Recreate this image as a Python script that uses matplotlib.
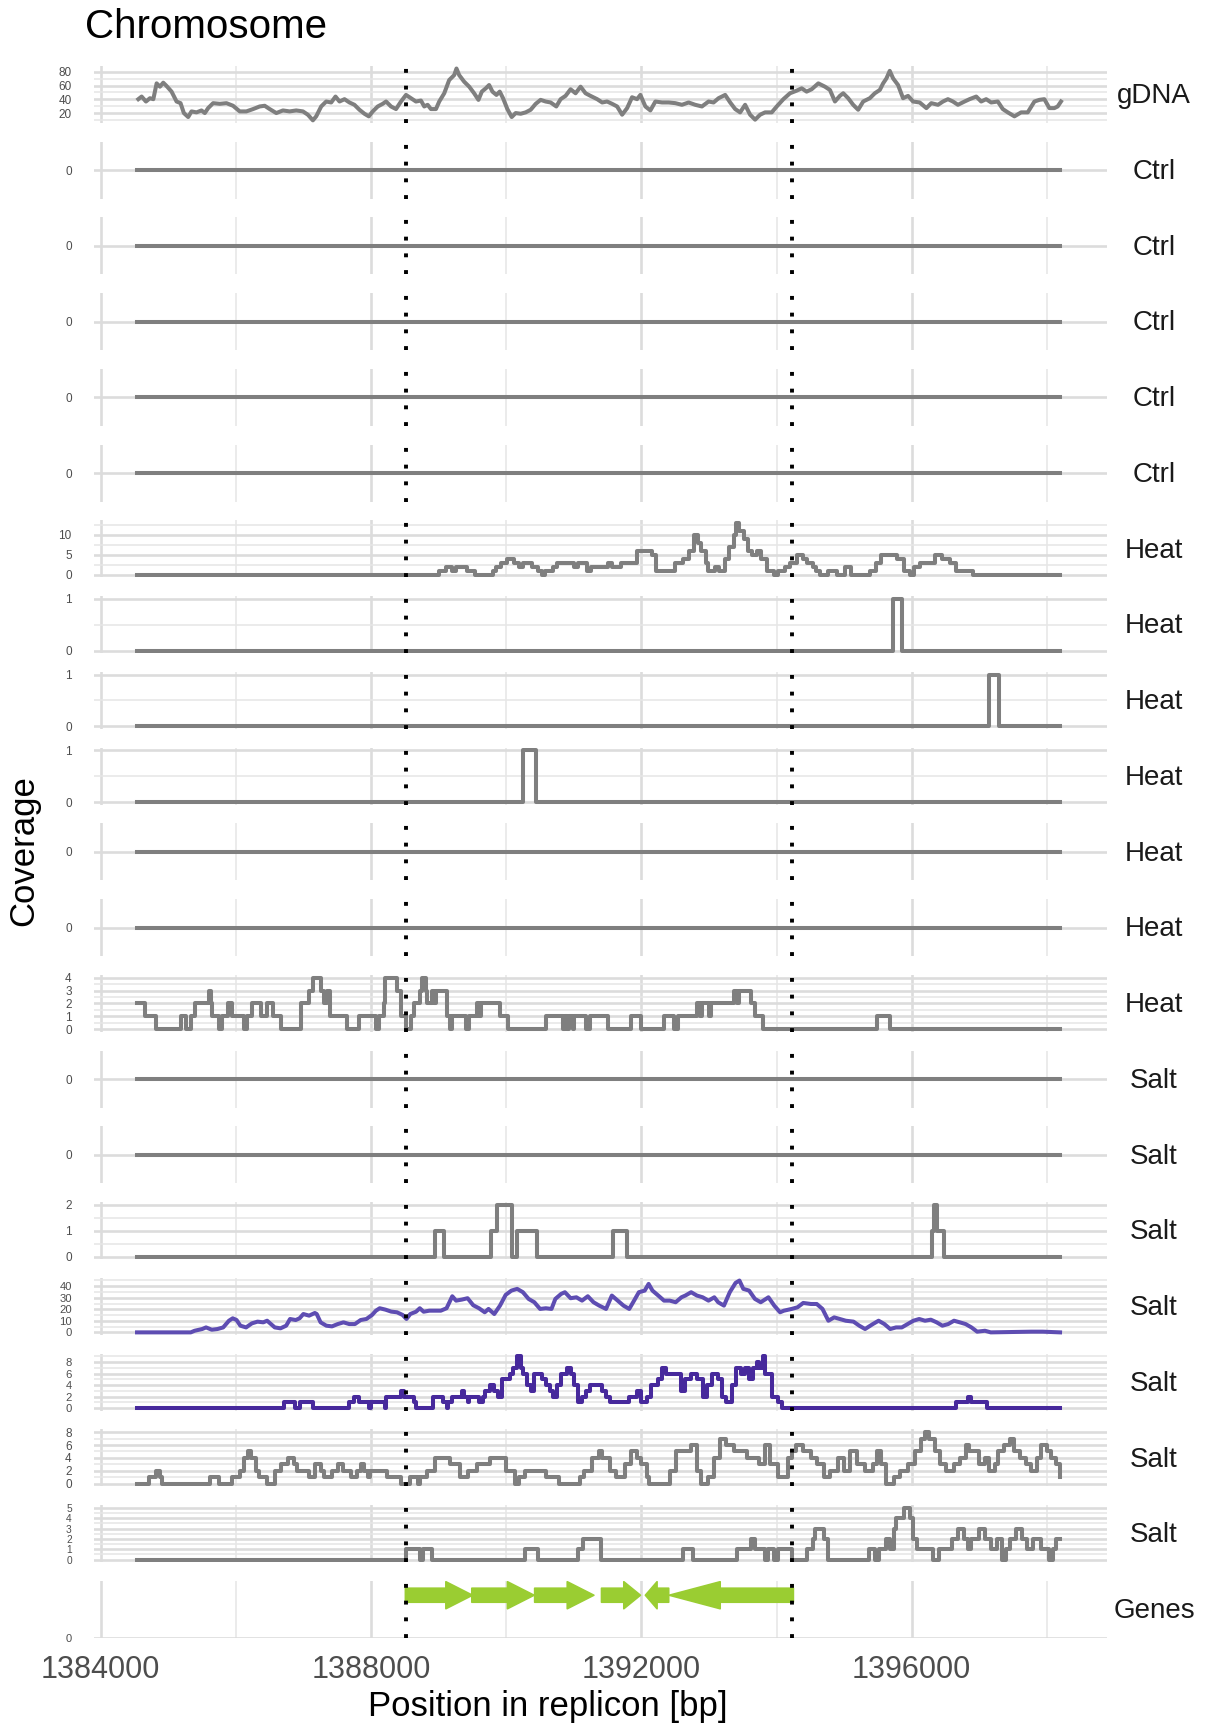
import numpy as np
import matplotlib.pyplot as plt
import matplotlib.transforms as mtransforms
from matplotlib.patches import Polygon

plt.rcParams['font.family'] = ['Liberation Sans', 'DejaVu Sans']

# positions in replicon [bp]
x_first, x_last = 1384537, 1398195
region_bounds = [1388520, 1394230]
x_major = [1384000, 1388000, 1392000, 1396000]
x_minor = [1386000, 1390000, 1394000, 1398000]

gdna_pos = [1384556, 1384605, 1384669, 1384728, 1384778, 1384827, 1384876, 1384925, 1384974, 1385048,
            1385122, 1385181, 1385230, 1385294, 1385343, 1385417, 1385491, 1385540, 1385589, 1385663,
            1385762, 1385860, 1385958, 1386057, 1386155, 1386254, 1386352, 1386426, 1386500, 1386598,
            1386696, 1386795, 1386893, 1386992, 1387065, 1387139, 1387188, 1387262, 1387336, 1387410,
            1387474, 1387533, 1387607, 1387680, 1387754, 1387828, 1387902, 1387966, 1388025, 1388099,
            1388172, 1388222, 1388295, 1388369, 1388443, 1388517, 1388591, 1388664, 1388738, 1388787,
            1388837, 1388886, 1388960, 1389009, 1389083, 1389156, 1389230, 1389264, 1389304, 1389378,
            1389452, 1389525, 1389589, 1389639, 1389698, 1389747, 1389796, 1389855, 1389904, 1389953,
            1390017, 1390081, 1390140, 1390214, 1390288, 1390362, 1390436, 1390509, 1390583, 1390657,
            1390741, 1390805, 1390878, 1390952, 1391026, 1391100, 1391174, 1391247,
            1391346, 1391420, 1391493, 1391567, 1391641, 1391715, 1391789, 1391862, 1391936, 1391985,
            1392059, 1392133, 1392207, 1392305, 1392404, 1392502, 1392600, 1392699, 1392797, 1392896,
            1392994, 1393068, 1393142, 1393240, 1393314, 1393388, 1393461, 1393535, 1393609, 1393683,
            1393757, 1393830, 1393929, 1394003, 1394101, 1394199, 1394298, 1394372, 1394445, 1394519,
            1394618, 1394716, 1394790, 1394864, 1394937, 1394987, 1395060, 1395134, 1395208, 1395282,
            1395380, 1395454, 1395528, 1395577, 1395626, 1395675, 1395725, 1395798, 1395872, 1395946,
            1396020, 1396118, 1396217, 1396290, 1396389, 1396463, 1396536, 1396610, 1396684, 1396782,
            1396856, 1396955, 1397028, 1397102, 1397176, 1397274, 1397348, 1397422, 1397520, 1397619,
            1397717, 1397816, 1397889, 1397963, 1398037, 1398111, 1398160, 1398209]
gdna_cov = [40.2, 44.0, 36.8, 41.6, 40.2, 63.2, 58.4, 64.2, 59.4, 51.2,
            36.8, 34.4, 20.0, 14.2, 22.4, 21.0, 23.8, 20.0, 27.2, 34.4,
            33.4, 34.4, 30.6, 22.4, 22.4, 25.8, 29.6, 30.6, 25.8, 20.0,
            23.8, 22.4, 23.8, 22.4, 17.6, 9.4, 15.2, 29.6, 36.8, 35.4,
            44.0, 36.8, 40.2, 35.4, 32.0, 24.8, 19.0, 15.2, 22.4, 29.6,
            33.4, 36.8, 29.6, 25.8, 36.8, 46.4, 41.6, 36.8, 38.2, 29.6,
            32.0, 25.8, 25.8, 36.8, 48.8, 68.0, 75.2, 84.8, 75.2, 65.6,
            58.4, 48.8, 39.2, 51.2, 56.0, 60.8, 51.2, 46.4, 51.2, 41.6,
            25.8, 14.2, 20.0, 19.0, 21.0, 24.8, 33.4, 39.2, 36.8, 35.4,
            29.6, 40.2, 45.0, 54.6, 48.8, 58.4, 48.8, 45.0,
            40.2, 35.4, 36.8, 33.4, 29.6, 17.6, 27.2, 43.0, 40.2, 46.4,
            29.6, 23.8, 36.8, 35.4, 35.4, 34.4, 32.0, 35.4, 32.0, 29.6,
            36.8, 35.4, 41.6, 46.4, 35.4, 25.8, 21.0, 32.0, 17.6, 10.4,
            17.6, 21.0, 21.0, 29.6, 40.2, 48.8, 52.6, 56.0, 51.2, 54.6,
            63.2, 58.4, 53.6, 36.8, 45.0, 48.8, 41.6, 32.0, 24.8, 36.8,
            41.6, 48.8, 53.6, 63.2, 70.4, 81.4, 70.4, 60.8, 41.6, 45.0,
            36.8, 35.4, 27.2, 34.4, 32.0, 36.8, 40.2, 36.8, 32.0, 36.8,
            40.2, 44.0, 36.8, 40.2, 35.4, 36.8, 25.8, 21.0, 15.2, 21.0,
            21.0, 36.8, 39.2, 40.2, 27.2, 27.2, 29.6, 36.8]

flat_pos = [x_first, x_last]
flat_cov = [0, 0]

heat1_pos = [1384537, 1389000, 1389111, 1389196, 1389252, 1389420, 1389535, 1389800, 1389845, 1389930,
             1390015, 1390116, 1390184, 1390241, 1390380, 1390467, 1390523, 1390580, 1390693, 1390749,
             1391000, 1391060, 1391201, 1391257, 1391512, 1391568, 1391698, 1391935, 1392161, 1392218,
             1392500, 1392613, 1392698, 1392783, 1392839, 1392884, 1392952, 1392980, 1393093, 1393150,
             1393235, 1393291, 1393376, 1393404, 1393449, 1393517, 1393574, 1393630, 1393715, 1393771,
             1393856, 1393969, 1394025, 1394130, 1394195, 1394308, 1394393, 1394449, 1394534, 1394590,
             1394647, 1394760, 1394901, 1395014, 1395099, 1395381, 1395466, 1395551, 1395777, 1395890,
             1395975, 1396031, 1396116, 1396342, 1396455, 1396568, 1396653, 1396907, 1398195]
heat1_cov = [0, 1, 2, 1, 2, 1, 0, 1, 2, 3,
             4, 3, 2, 3, 2, 1, 0, 1, 2, 3,
             2, 3, 1, 2, 3, 2, 3, 6, 5, 1,
             3, 4, 6, 10, 8, 6, 3, 1, 2, 1,
             4, 7, 10, 13, 11, 9, 6, 5, 6, 4,
             1, 0, 1, 2, 3, 5, 4, 3, 2, 1,
             0, 1, 0, 2, 0, 1, 3, 5, 4, 1,
             0, 2, 3, 5, 4, 3, 1, 0, 0]

heat2_pos = [x_first, 1395730, 1395860, x_last]
heat2_cov = [0, 1, 0, 0]
heat3_pos = [x_first, 1397140, 1397285, x_last]
heat3_cov = [0, 1, 0, 0]
heat4_pos = [x_first, 1390245, 1390440, x_last]
heat4_cov = [0, 1, 0, 0]

heat7_pos = [1384537, 1384654, 1384824, 1385191, 1385264, 1385332, 1385389, 1385600, 1385630, 1385643,
             1385756, 1385795, 1385886, 1385937, 1386123, 1386162, 1386236, 1386377, 1386462, 1386547,
             1386660, 1386970, 1387083, 1387140, 1387253, 1387300, 1387354, 1387394, 1387648, 1387818,
             1388072, 1388120, 1388190, 1388213, 1388383, 1388439, 1388524, 1388597, 1388637, 1388721,
             1388750, 1388806, 1388835, 1388900, 1388930, 1388960, 1389117, 1389170, 1389200, 1389400,
             1389445, 1389569, 1389600, 1389620, 1389908, 1390021, 1390586, 1390840, 1390870, 1390897,
             1390930, 1390981, 1391010, 1391179, 1391235, 1391506, 1391849, 1391992, 1392335, 1392478,
             1392536, 1392822, 1392870, 1392900, 1393000, 1393030, 1393365, 1393420, 1393450, 1393623,
             1393680, 1393794, 1395482, 1395682, 1398195]
heat7_cov = [2, 1, 0, 1, 0, 1, 2, 3, 2, 1,
             0, 1, 2, 1, 0, 1, 2, 1, 2, 1,
             0, 2, 3, 4, 3, 2, 3, 1, 0, 1,
             0, 1, 2, 4, 3, 1, 0, 1, 2, 3,
             4, 3, 2, 3, 2, 3, 1, 0, 1, 0,
             1, 2, 1, 2, 1, 0, 1, 0, 1, 0,
             1, 0, 1, 0, 1, 0, 1, 0, 1, 0,
             1, 2, 1, 2, 1, 2, 3, 2, 3, 2,
             1, 0, 1, 0, 0]

salt3_pos = [1384537, 1388943, 1389073, 1389772, 1389870, 1390081, 1390160, 1390455, 1391577, 1391789,
             1396293, 1396325, 1396374, 1396471, 1398195]
salt3_cov = [0, 1, 0, 1, 2, 0, 1, 0, 1, 0,
             1, 2, 1, 0, 0]

salt4_pos = [1384537, 1385332, 1385389, 1385501, 1385558, 1385643, 1385727, 1385812, 1385897, 1385953,
             1386010, 1386066, 1386151, 1386236, 1386320, 1386405, 1386462, 1386518, 1386575, 1386660,
             1386744, 1386801, 1386885, 1386942, 1386998, 1387083, 1387168, 1387196, 1387253, 1387338,
             1387422, 1387507, 1387592, 1387677, 1387761, 1387846, 1387931, 1388015, 1388072, 1388128,
             1388213, 1388298, 1388383, 1388467, 1388524, 1388580, 1388665, 1388721, 1388778, 1388862,
             1388947, 1389032, 1389117, 1389202, 1389258, 1389343, 1389428, 1389512, 1389597, 1389682,
             1389738, 1389823, 1389908, 1389992, 1390077, 1390162, 1390247, 1390331, 1390416, 1390501,
             1390586, 1390670, 1390727, 1390812, 1390868, 1390953, 1391038, 1391122, 1391207, 1391292,
             1391376, 1391477, 1391563, 1391649, 1391735, 1391820, 1391878, 1391963, 1392049, 1392107,
             1392164, 1392250, 1392335, 1392421, 1392507, 1392593, 1392650, 1392736, 1392822, 1392907,
             1392993, 1393079, 1393136, 1393222, 1393308, 1393394, 1393451, 1393508, 1393594, 1393680,
             1393766, 1393880, 1393966, 1394052, 1394109, 1394223, 1394309, 1394395, 1394509, 1394595,
             1394680, 1394767, 1394853, 1394938, 1395024, 1395139, 1395224, 1395310, 1395425, 1395510,
             1395596, 1395682, 1395768, 1395854, 1395940, 1396025, 1396111, 1396197, 1396283, 1396369,
             1396454, 1396540, 1396626, 1396712, 1396798, 1396884, 1396969, 1397084, 1397170, 1397770,
             1397942, 1398195]
salt4_cov = [0, 0, 1.4, 2.9, 4.3, 2.3, 2.9, 4.3, 10.1, 12.2,
             10.7, 5.8, 4.3, 7.8, 9.3, 8.7, 10.1, 7.2, 4.3, 3.5,
             5.8, 11.6, 10.7, 12.2, 15.9, 14.5, 16.8, 15.9, 8.7, 5.8,
             5.2, 7.2, 8.7, 7.2, 7.2, 10.7, 11.6, 15.1, 18.8, 20.9,
             19.7, 18.0, 17.4, 15.1, 11.6, 15.9, 17.9, 20.9, 17.9, 18.8,
             18.8, 18.8, 20.9, 31.3, 27.5, 28.4, 29.6, 23.5, 20.9, 17.4,
             20.3, 15.9, 23.2, 32.5, 36.2, 37.7, 34.8, 29.0, 26.1, 20.3,
             20.9, 20.3, 29.0, 33.3, 34.8, 29.6, 30.4, 27.5, 31.3, 26.1,
             23.2, 20.3, 31.9, 27.5, 23.2, 20.3, 26.1, 34.8, 36.2, 42.0,
             36.2, 31.9, 27.5, 27.5, 26.1, 30.4, 31.9, 34.8, 31.9, 30.4,
             27.5, 30.4, 26.1, 23.2, 34.8, 42.9, 44.9, 37.7, 36.2, 29.0,
             26.1, 30.4, 23.2, 17.4, 18.8, 20.3, 21.7, 25.5, 24.6, 24.6,
             20.3, 10.1, 13.0, 11.6, 10.1, 9.3, 5.8, 2.9, 7.2, 10.1,
             7.2, 2.9, 4.3, 4.3, 7.2, 10.1, 11.6, 10.1, 11.0, 8.7,
             5.8, 7.2, 10.1, 8.7, 7.2, 4.3, 0.6, 1.4, 0, 0.6,
             0.6, 0]

salt5_pos = [1384537, 1386716, 1386869, 1386942, 1387139, 1387677, 1387750, 1387816, 1387976, 1387998,
             1388202, 1388225, 1388439, 1388484, 1388637, 1388665, 1388919, 1389060, 1389117, 1389145,
             1389202, 1389343, 1389371, 1389428, 1389456, 1389597, 1389653, 1389693, 1389766, 1389823,
             1389879, 1389936, 1390049, 1390105, 1390162, 1390218, 1390247, 1390303, 1390360, 1390416,
             1390529, 1390586, 1390642, 1390699, 1390755, 1390812, 1390896, 1390953, 1391009, 1391066,
             1391122, 1391179, 1391235, 1391420, 1391477, 1391534, 1391820, 1391935, 1391992, 1392078,
             1392135, 1392250, 1392307, 1392364, 1392593, 1392650, 1392736, 1392822, 1392907, 1392965,
             1393050, 1393136, 1393194, 1393251, 1393337, 1393394, 1393480, 1393537, 1393594, 1393651,
             1393708, 1393737, 1393794, 1393823, 1393937, 1394023, 1394080, 1396655, 1396826, 1396884,
             1397112, 1398195]
salt5_cov = [0, 1, 0, 1, 0, 1, 2, 1, 0, 1,
             0, 2, 3, 2, 1, 0, 2, 1, 0, 1,
             2, 3, 2, 1, 2, 1, 2, 3, 4, 3,
             2, 5, 6, 7, 9, 7, 6, 4, 3, 6,
             5, 4, 3, 2, 4, 6, 7, 6, 4, 1,
             2, 3, 4, 3, 2, 1, 2, 3, 1, 2,
             4, 5, 7, 6, 3, 5, 6, 5, 2, 4,
             6, 5, 2, 1, 4, 7, 6, 7, 5, 7,
             8, 7, 9, 6, 2, 1, 0, 1, 2, 1,
             0, 0]

salt6_pos = [1384537, 1384711, 1384812, 1384880, 1384908, 1385614, 1385756, 1385942, 1386066, 1386123,
             1386179, 1386225, 1386292, 1386348, 1386462, 1386575, 1386660, 1386773, 1386857, 1386902,
             1387083, 1387168, 1387253, 1387309, 1387422, 1387507, 1387592, 1387705, 1387790, 1387846,
             1387902, 1387959, 1387987, 1388241, 1388439, 1388580, 1388693, 1388721, 1388834, 1388947,
             1389173, 1389315, 1389428, 1389569, 1389766, 1389992, 1390134, 1390190, 1390275, 1390586,
             1390783, 1391094, 1391150, 1391263, 1391376, 1391420, 1391534, 1391620, 1391763, 1391849,
             1391935, 1391992, 1392078, 1392107, 1392421, 1392507, 1392736, 1392822, 1392879, 1392993,
             1393079, 1393165, 1393251, 1393365, 1393565, 1393737, 1393823, 1393909, 1394023, 1394166,
             1394223, 1394281, 1394395, 1394509, 1394595, 1394709, 1394795, 1394910, 1394996, 1395081,
             1395196, 1395310, 1395425, 1395482, 1395539, 1395625, 1395739, 1395825, 1395940, 1396054,
             1396140, 1396197, 1396254, 1396340, 1396426, 1396512, 1396626, 1396712, 1396798, 1396855,
             1396998, 1397084, 1397141, 1397227, 1397284, 1397370, 1397456, 1397513, 1397599, 1397685,
             1397770, 1397856, 1397913, 1397999, 1398057, 1398142, 1398199]
salt6_cov = [0, 1, 2, 1, 0, 1, 0, 1, 2, 4,
             5, 4, 2, 1, 0, 2, 3, 4, 3, 2,
             1, 3, 2, 1, 2, 3, 2, 1, 2, 3,
             2, 1, 2, 1, 0, 1, 0, 1, 2, 4,
             3, 1, 2, 3, 4, 2, 0, 1, 2, 1,
             0, 1, 2, 4, 5, 4, 2, 1, 3, 5,
             4, 3, 1, 0, 2, 5, 6, 2, 0, 1,
             4, 7, 6, 5, 4, 3, 6, 3, 1, 4,
             5, 6, 5, 4, 3, 1, 2, 4, 2, 5,
             3, 2, 3, 5, 3, 0, 1, 2, 3, 5,
             7, 8, 7, 5, 3, 2, 3, 4, 6, 5,
             3, 4, 2, 3, 5, 6, 7, 5, 4, 3,
             2, 4, 6, 5, 4, 3, 1]

salt7_pos = [1384537, 1388524, 1388721, 1388766, 1388902, 1390275, 1390473, 1391066, 1391139, 1391400,
             1392621, 1392764, 1393422, 1393623, 1393680, 1393823, 1393880, 1393966, 1394023, 1394223,
             1394452, 1394538, 1394566, 1394709, 1394767, 1395367, 1395453, 1395510, 1395625, 1395682,
             1395739, 1395768, 1395882, 1395968, 1396025, 1396083, 1396311, 1396397, 1396597, 1396683,
             1396769, 1396826, 1396884, 1396998, 1397084, 1397170, 1397255, 1397341, 1397398, 1397456,
             1397542, 1397627, 1397713, 1397799, 1397913, 1398028, 1398085, 1398142, 1398199]
salt7_cov = [0, 1, 0, 1, 0, 1, 0, 1, 2, 0,
             1, 0, 1, 2, 1, 0, 1, 0, 1, 0,
             1, 2, 3, 2, 0, 1, 0, 1, 2, 1,
             3, 4, 5, 4, 2, 1, 0, 1, 2, 3,
             2, 1, 2, 3, 2, 1, 2, 0, 1, 2,
             3, 2, 1, 2, 1, 0, 1, 2, 2]

gene_start = [1388508, 1389491, 1390421, 1391410, 1392404, 1394249]
gene_end = [1389501, 1390412, 1391297, 1391986, 1392059, 1392413]
gene_head = [394, 394, 394, 246, 173, 753]

GREY = '#7F7F7F'
PURPLE_1 = '#5E4DB2'
PURPLE_2 = '#47299C'
GENE_GREEN = '#9ACD32'

# (strip label, positions, coverage, draw as, colour, y break step)
rows = [('gDNA', gdna_pos, gdna_cov, 'line', GREY, 20)]
rows += [('Ctrl', flat_pos, flat_cov, 'steps', GREY, None)] * 5
rows += [('Heat', heat1_pos, heat1_cov, 'steps', GREY, 5),
         ('Heat', heat2_pos, heat2_cov, 'steps', GREY, 1),
         ('Heat', heat3_pos, heat3_cov, 'steps', GREY, 1),
         ('Heat', heat4_pos, heat4_cov, 'steps', GREY, 1),
         ('Heat', flat_pos, flat_cov, 'steps', GREY, None),
         ('Heat', flat_pos, flat_cov, 'steps', GREY, None),
         ('Heat', heat7_pos, heat7_cov, 'steps', GREY, 1),
         ('Salt', flat_pos, flat_cov, 'steps', GREY, None),
         ('Salt', flat_pos, flat_cov, 'steps', GREY, None),
         ('Salt', salt3_pos, salt3_cov, 'steps', GREY, 1),
         ('Salt', salt4_pos, salt4_cov, 'line', PURPLE_1, 10),
         ('Salt', salt5_pos, salt5_cov, 'steps', PURPLE_2, 2),
         ('Salt', salt6_pos, salt6_cov, 'steps', GREY, 2),
         ('Salt', salt7_pos, salt7_cov, 'steps', GREY, 1),
         ('Genes', None, None, 'genes', GENE_GREEN, None)]

fig, axes = plt.subplots(len(rows), 1, figsize=(12.08, 17.26), dpi=100, sharex=True,
                         gridspec_kw={'hspace': 0.329})
fig.subplots_adjust(left=0.0778, right=0.9164, top=0.9618, bottom=0.051)

for ax, (label, pos, cov, kind, color, step) in zip(axes, rows):
    for s in ax.spines.values():
        s.set_visible(False)
    ax.set_xlim(1383900, 1398890)
    ax.set_xticks(x_major)
    ax.set_xticks(x_minor, minor=True)
    ax.set_xticklabels([str(v) for v in x_major])
    ysize = 8.5

    if kind == 'genes':
        ax.set_ylim(0, 1)
        ax.set_yticks([0])
        ax.set_yticklabels(['0'])
        ysize = 8
        for s0, e0, hl in zip(gene_start, gene_end, gene_head):
            d = 1 if e0 > s0 else -1
            neck = e0 - d * hl
            yc, body, head = 0.75, 0.123, 0.237
            pts = [(s0, yc - body), (neck, yc - body), (neck, yc - head), (e0, yc),
                   (neck, yc + head), (neck, yc + body), (s0, yc + body)]
            ax.add_patch(Polygon(pts, closed=True, fc=color, ec=color, lw=1.2,
                                 joinstyle='round', zorder=2))
    else:
        if kind == 'line':
            ax.plot(pos, cov, color=color, lw=2.9, zorder=2, solid_joinstyle='round')
        else:
            ax.step(pos, cov, where='post', color=color, lw=2.9, zorder=2)
        if step is None:
            ax.set_ylim(-0.05, 0.05)
            ax.set_yticks([0])
            ax.set_yticklabels(['0'])
        else:
            lo, hi = min(cov), max(cov)
            pad = 0.05 * (hi - lo)
            y0, y1 = lo - pad, hi + pad
            ax.set_ylim(y0, y1)
            half = step / 2
            vals = np.arange(np.ceil(y0 / half) * half, y1 + 1e-9, half)
            majors = [v for v in vals if abs(v / step - round(v / step)) < 1e-6]
            minors = [v for v in vals if abs(v / step - round(v / step)) >= 1e-6]
            ax.set_yticks(majors)
            ax.set_yticks(minors, minor=True)
            ax.set_yticklabels([str(int(round(v))) for v in majors])
            # keep stacked labels from running into each other in dense panels
            px_per_tick = 57 * step / (y1 - y0)
            ysize = min(8.5, px_per_tick / 1.42)

    ax.grid(which='major', color='#DCDCDC', lw=1.9)
    ax.grid(which='minor', color='#E6E6E6', lw=1.1)
    ax.set_axisbelow(True)
    ax.tick_params(which='both', length=0)
    ax.tick_params(axis='y', labelsize=ysize, labelcolor='#4D4D4D', pad=16)
    ax.tick_params(axis='x', labelsize=22, labelcolor='#4D4D4D', pad=12)

    for xb in region_bounds:
        ax.axvline(xb, color='black', lw=2.8, ls=(0, (1, 3.3)), zorder=3)

    trans = mtransforms.blended_transform_factory(fig.transFigure, ax.transAxes)
    ax.text(1154 / 1208, 0.47, label, transform=trans, ha='center', va='center',
            fontsize=20, color='#1A1A1A')

fig.text(85 / 1208, 1 - 27 / 1726, 'Chromosome', fontsize=29, ha='left', va='center')
fig.text(24 / 1208, 1 - 851 / 1726, 'Coverage', fontsize=25, rotation=90,
         ha='center', va='center')
fig.text(548 / 1208, 1 - 1706 / 1726, 'Position in replicon [bp]', fontsize=25,
         ha='center', va='center')

fig.savefig('out.png', dpi=100)
